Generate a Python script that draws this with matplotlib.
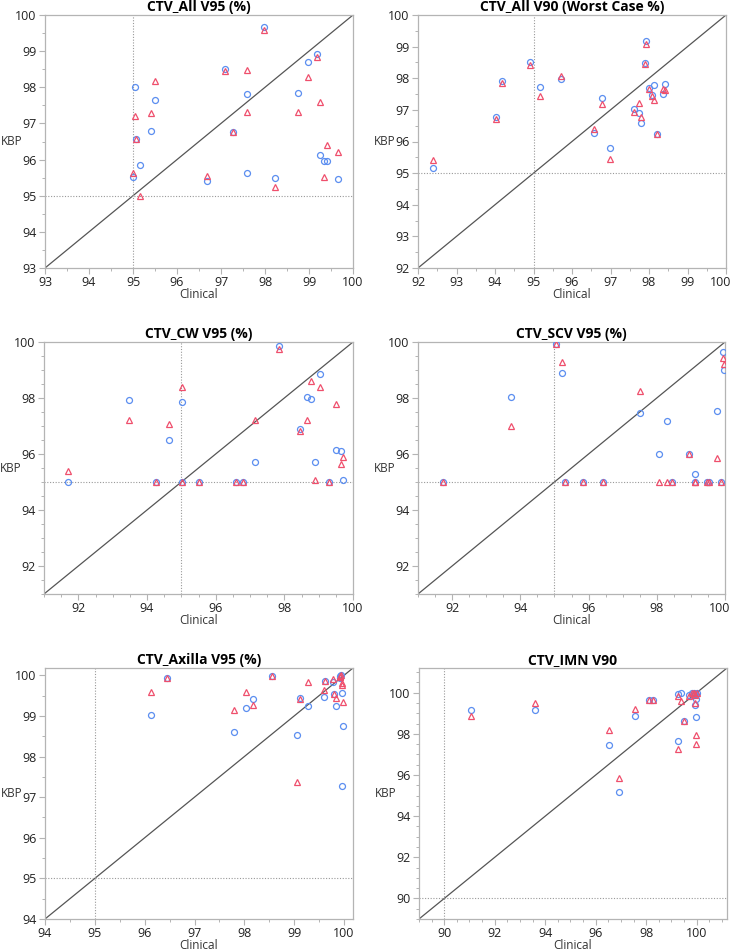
import matplotlib
matplotlib.use("Agg")
import matplotlib.pyplot as plt
from matplotlib.ticker import MultipleLocator
from matplotlib.transforms import ScaledTranslation

plt.rcParams["font.family"] = ["Open Sans", "DejaVu Sans"]

# ---------------------------------------------------------------------------
# Data (Clinical vs KBP, two KBP variants per patient)
# ---------------------------------------------------------------------------

all_v95_clin = [97.98, 99.19, 98.97, 97.09, 95.05, 95.50, 97.59, 97.59, 98.76, 95.41,
                97.28, 95.07, 95.17, 99.25, 99.33, 99.41, 95.00, 96.68, 98.23, 99.66]
all_v95_blue = [99.66, 98.93, 98.70, 98.51, 98.01, 97.65, 97.81, 95.62, 97.83, 96.78,
                96.75, 96.56, 95.84, 96.14, 95.96, 95.95, 95.52, 95.40, 95.49, 95.45]
all_v95_red = [99.59, 98.84, 98.29, 98.46, 97.20, 98.18, 98.47, 97.33, 97.33, 97.30,
               96.76, 96.58, 95.00, 97.60, 95.53, 96.39, 95.64, 95.54, 95.24, 96.21]

all_v90_clin = [92.38, 94.92, 94.19, 95.16, 95.71, 94.02, 96.77, 96.58, 96.99, 97.91,
                97.89, 97.62, 97.75, 97.80, 98.01, 98.07, 98.14, 98.36, 98.41, 98.21]
all_v90_blue = [95.15, 98.51, 97.92, 97.73, 97.98, 96.76, 97.37, 96.28, 95.80, 99.19,
                98.49, 97.03, 96.89, 96.57, 97.70, 97.46, 97.78, 97.49, 97.83, 96.24]
all_v90_red = [95.42, 98.43, 97.84, 97.44, 98.07, 96.72, 97.17, 96.40, 95.46, 99.09,
               98.44, 96.93, 97.23, 96.76, 97.67, 97.44, 97.32, 97.67, 97.64, 96.24]

cw_clin = [91.69, 93.47, 94.25, 94.65, 95.03, 95.03, 95.51, 96.59, 96.80, 97.16,
           97.84, 98.46, 98.67, 98.79, 98.89, 99.04, 99.31, 99.51, 99.64, 99.70]
cw_blue = [95.00, 97.92, 95.00, 96.49, 97.87, 95.00, 95.00, 95.00, 95.00, 95.70,
           99.87, 96.91, 98.03, 97.97, 95.72, 98.85, 95.00, 96.16, 96.10, 95.06]
cw_red = [95.40, 97.23, 95.00, 97.07, 98.39, 95.00, 95.00, 95.00, 95.00, 97.21,
          99.75, 96.81, 97.23, 98.61, 95.07, 98.39, 95.00, 97.78, 95.64, 95.90]

scv_clin = [91.72, 93.72, 95.06, 95.21, 95.32, 95.84, 96.42, 97.52, 98.06, 98.31,
            98.46, 98.95, 99.13, 99.11, 99.47, 99.53, 99.76, 99.89, 99.94, 99.98]
scv_blue = [95.00, 98.05, 99.92, 98.88, 95.00, 95.00, 95.00, 97.46, 96.00, 97.17,
            95.00, 96.00, 95.30, 95.00, 95.00, 95.00, 97.53, 95.00, 99.63, 99.00]
scv_red = [95.00, 96.99, 99.92, 99.29, 95.00, 95.00, 95.00, 98.25, 95.00, 95.00,
           95.00, 96.00, 95.00, 95.00, 95.00, 95.00, 95.86, 95.00, 99.44, 99.20]

axilla_clin = [96.13, 96.44, 97.80, 98.03, 98.18, 98.56, 99.05, 99.12, 99.28, 99.59,
               99.62, 99.78, 99.80, 99.84, 99.91, 99.92, 99.93, 99.95, 99.96, 99.97]
axilla_blue = [99.03, 99.94, 98.61, 99.20, 99.42, 99.99, 98.54, 99.44, 99.24, 99.46,
               99.85, 99.84, 99.55, 99.25, 99.94, 99.98, 100.0, 99.57, 97.28, 98.76]
axilla_red = [99.60, 99.94, 99.14, 99.59, 99.28, 99.99, 97.38, 99.42, 99.83, 99.64,
              99.85, 99.91, 99.53, 99.44, 99.96, 99.99, 100.0, 99.75, 99.81, 99.35]

imn_clin = [91.05, 93.59, 96.52, 96.91, 97.54, 98.12, 98.28, 99.27, 99.27, 99.38,
            99.50, 99.71, 99.80, 99.88, 99.93, 99.97, 99.97, 100.0, 99.91, 99.95]
imn_blue = [99.18, 99.18, 97.48, 95.16, 98.87, 99.66, 99.66, 97.67, 99.95, 100.0,
            98.63, 99.90, 99.97, 100.0, 99.41, 99.69, 98.81, 100.0, 99.90, 99.94]
imn_red = [98.86, 99.49, 98.18, 95.87, 99.21, 99.66, 99.66, 97.28, 99.84, 99.61,
           98.63, 99.84, 99.97, 100.0, 99.50, 97.94, 97.52, 100.0, 99.97, 99.90]

BLUE = "#5B8EF0"
RED = "#EF4F6C"
FRAME = "#B4B4B4"

W, H = 733, 951
fig = plt.figure(figsize=(W / 100, H / 100), dpi=100)


def rect(x0, y0, x1, y1):
    return [x0 / W, 1 - y1 / H, (x1 - x0) / W, (y1 - y0) / H]


def draw_panel(box, title, clin, blue, red, lims, ref, major, minor):
    ax = fig.add_axes(rect(*box))
    lo, hi = lims
    ax.plot([lo, hi], [lo, hi], color="#555555", lw=0.9, zorder=1)
    ax.axvline(ref, color="#999999", ls=(0, (1, 1.5)), lw=0.8, zorder=1)
    ax.axhline(ref, color="#999999", ls=(0, (1, 1.5)), lw=0.8, zorder=1)
    ax.plot(clin, blue, ls="none", marker="o", ms=4.3, mfc="none",
            mec=BLUE, mew=0.9, zorder=3)
    ax.plot(clin, red, ls="none", marker="^", ms=4.8, mfc="none",
            mec=RED, mew=0.9, zorder=4)
    ax.set_xlim(lo, hi)
    ax.set_ylim(lo, hi)
    ax.xaxis.set_major_locator(MultipleLocator(major))
    ax.yaxis.set_major_locator(MultipleLocator(major))
    ax.xaxis.set_minor_locator(MultipleLocator(minor))
    ax.yaxis.set_minor_locator(MultipleLocator(minor))
    for s in ax.spines.values():
        s.set_color(FRAME)
        s.set_linewidth(0.9)
    ax.tick_params(which="major", direction="out", length=4, width=0.8,
                   color=FRAME, labelsize=9, labelcolor="#222222", pad=2)
    ax.tick_params(which="minor", direction="out", length=2.5, width=0.7,
                   color=FRAME)
    ax.set_title(title, fontsize=10, fontweight="bold", pad=3)
    ax.set_xlabel("Clinical", fontsize=8.5, color="#333333", labelpad=-1)
    ax.set_ylabel("KBP", fontsize=8.5, color="#333333", rotation=0,
                  ha="center", va="center")
    ax.yaxis.set_label_coords(-33 / (box[2] - box[0]), 0.5)

    # the "100" label at the figure's right edge is pulled inward, as in the original
    if box[2] > 720 and hi == 100:
        fig.canvas.draw()
        for lab in ax.get_xticklabels():
            if lab.get_text() == "100":
                lab.set_transform(lab.get_transform()
                                  + ScaledTranslation(-5 / 100, 0, fig.dpi_scale_trans))
    return ax


draw_panel((45, 15, 353, 268), "CTV_All V95 (%)",
           all_v95_clin, all_v95_blue, all_v95_red, (93, 100), 95, 1, 0.5)
draw_panel((418, 15, 726, 268), "CTV_All V90 (Worst Case %)",
           all_v90_clin, all_v90_blue, all_v90_red, (92, 100), 95, 1, 0.5)
draw_panel((44, 342, 353, 594), "CTV_CW V95 (%)",
           cw_clin, cw_blue, cw_red, (91, 100), 95, 2, 0.5)
draw_panel((418, 342, 725, 594), "CTV_SCV V95 (%)",
           scv_clin, scv_blue, scv_red, (91, 100), 95, 2, 0.5)
draw_panel((45, 668, 353, 919), "CTV_Axilla V95 (%)",
           axilla_clin, axilla_blue, axilla_red, (94, 100.18), 95, 1, 0.5)
draw_panel((419, 668, 727, 919), "CTV_IMN V90",
           imn_clin, imn_blue, imn_red, (89, 101.2), 90, 2, 0.5)

fig.savefig("out.png", dpi=100)
